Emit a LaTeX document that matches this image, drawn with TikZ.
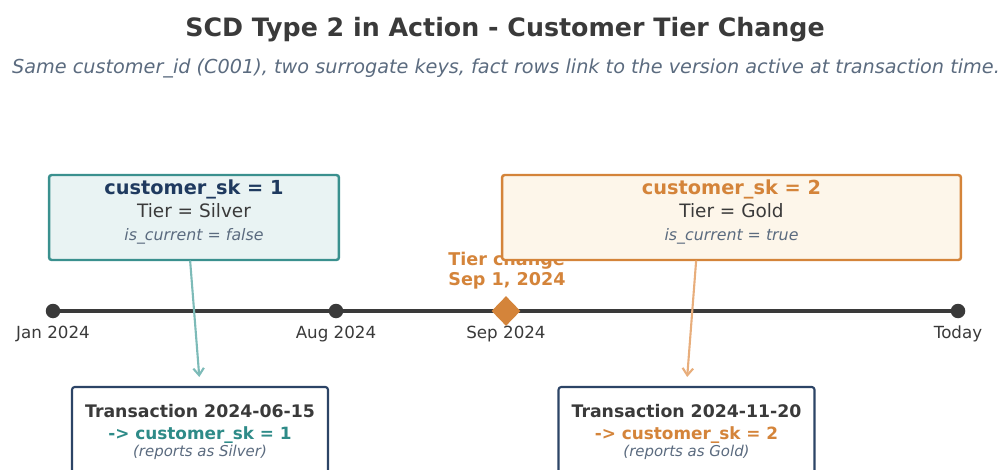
\documentclass[tikz,border=0pt]{standalone}
\usepackage{fontspec}
\setmainfont{DejaVu Sans}
\usepackage{xcolor}
\usetikzlibrary{arrows.meta, shapes.geometric, positioning}

\definecolor{inkgray}{HTML}{3A3A3A}
\definecolor{slategray}{HTML}{5B6B7F}
\definecolor{navyink}{HTML}{1F3A5F}
\definecolor{navyline}{HTML}{2C4466}
\definecolor{tealink}{HTML}{2E8B88}
\definecolor{tealline}{HTML}{3A908E}
\definecolor{tealfill}{HTML}{E9F3F3}
\definecolor{tealarrow}{HTML}{7DBBB8}
\definecolor{orangeink}{HTML}{D4843A}
\definecolor{orangefill}{HTML}{FDF6EA}
\definecolor{orangearrow}{HTML}{E8AE7C}

\begin{document}
\begin{tikzpicture}[
        x=0.02cm,
        y=-0.02cm,
        line join=round,
        line cap=round,
        skbox/.style={draw, line width=1.4pt, rounded corners=1.5pt,
            inner sep=0pt, minimum height=1.7cm},
        txbox/.style={draw=navyline, fill=white, line width=1.2pt,
            rounded corners=1.5pt, inner sep=0pt,
            minimum width=5.12cm, minimum height=2cm},
        tdot/.style={circle, fill=inkgray, inner sep=0pt, minimum size=0.29cm},
        datelbl/.style={anchor=base, inner sep=0pt, text=inkgray,
            font=\fontsize{9.5}{11}\selectfont},
        txt/.style={anchor=base, inner sep=0pt}
    ]

        \useasboundingbox (0,0) rectangle (1001,470);
        \clip (0,0) rectangle (1001,470);

        % =================================
        % TITLE
        % =================================
        \node[txt, text=inkgray, font=\fontsize{14.4}{16}\selectfont\bfseries]
            (title) at (505,36) {SCD Type 2 in Action - Customer Tier Change};
        \node[txt, text=slategray, font=\fontsize{10.95}{13}\selectfont\itshape]
            (subtitle) at (506,73)
            {Same customer\_id (C001), two surrogate keys, fact rows link to the version active at transaction time.};

        % =================================
        % TIMELINE
        % =================================
        \coordinate (tjan) at (53,311);
        \coordinate (taug) at (336,311);
        \coordinate (tsep) at (506,311);
        \coordinate (ttoday) at (958,311);

        \draw[inkgray, line width=1.8pt]
            (tjan) -- (ttoday);

        \node[tdot] (jan) at (tjan) {};
        \node[tdot] (aug) at (taug) {};
        \node[tdot] (today) at (ttoday) {};
        \node[diamond, fill=orangeink, inner sep=0pt,
            minimum width=0.58cm, minimum height=0.6cm] (sep) at (tsep) {};

        \node[datelbl] (janlbl) at (53,338) {Jan 2024};
        \node[datelbl] (auglbl) at (336,338) {Aug 2024};
        \node[datelbl] (seplbl) at (506,338) {Sep 2024};
        \node[datelbl] (todaylbl) at (958,338) {Today};

        % tier change label
        \node[anchor=base west, inner sep=0pt, text=orangeink,
            font=\fontsize{10}{12}\selectfont\bfseries] (chg1) at (448,265) {Tier change};
        \node[anchor=base west, inner sep=0pt, text=orangeink,
            font=\fontsize{10}{12}\selectfont\bfseries] (chg2) at (448,285) {Sep 1, 2024};

        % =================================
        % DIMENSION ROWS
        % =================================

        % customer_sk = 1
        \node[skbox, draw=tealline, fill=tealfill, minimum width=5.8cm]
            (sk1box) at (194,217.5) {};
        \node[txt, text=navyink, font=\fontsize{11}{13}\selectfont\bfseries]
            (sk1key) at (194,194) {customer\_sk = 1};
        \node[txt, text=inkgray, font=\fontsize{10.5}{12}\selectfont]
            (sk1tier) at (194,217) {Tier = Silver};
        \node[txt, text=slategray, font=\fontsize{9}{11}\selectfont\itshape]
            (sk1cur) at (194,240) {is\_current = false};

        % customer_sk = 2
        \node[skbox, draw=orangeink, fill=orangefill, minimum width=9.18cm]
            (sk2box) at (731.5,217.5) {};
        \node[txt, text=orangeink, font=\fontsize{11}{13}\selectfont\bfseries]
            (sk2key) at (731.5,194) {customer\_sk = 2};
        \node[txt, text=inkgray, font=\fontsize{10.5}{12}\selectfont]
            (sk2tier) at (731.5,217) {Tier = Gold};
        \node[txt, text=slategray, font=\fontsize{9}{11}\selectfont\itshape]
            (sk2cur) at (731.5,240) {is\_current = true};

        % =================================
        % FACT ROWS
        % =================================

        \node[txbox] (tx1box) at (200,437) {};
        \node[txt, text=inkgray, font=\fontsize{9.85}{12}\selectfont\bfseries]
            (tx1date) at (200,417) {Transaction 2024-06-15};
        \node[txt, text=tealink, font=\fontsize{9.6}{12}\selectfont\bfseries]
            (tx1key) at (200,439) {-> customer\_sk = 1};
        \node[txt, text=slategray, font=\fontsize{8.5}{10}\selectfont\itshape]
            (tx1note) at (200,456) {(reports as Silver)};

        \node[txbox] (tx2box) at (686.5,437) {};
        \node[txt, text=inkgray, font=\fontsize{9.85}{12}\selectfont\bfseries]
            (tx2date) at (686.5,417) {Transaction 2024-11-20};
        \node[txt, text=orangeink, font=\fontsize{9.6}{12}\selectfont\bfseries]
            (tx2key) at (686.5,439) {-> customer\_sk = 2};
        \node[txt, text=slategray, font=\fontsize{8.5}{10}\selectfont\itshape]
            (tx2note) at (686.5,456) {(reports as Gold)};

        % =================================
        % LINKS
        % =================================

        \draw[tealarrow, line width=1.2pt, -{Straight Barb[length=4pt, width=6pt]},
            shorten >=0.18cm]
            (sk1box.-95) -- (tx1box.north);

        \draw[orangearrow, line width=1.2pt, -{Straight Barb[length=4pt, width=6pt]},
            shorten >=0.18cm]
            (sk2box.-129) -- (tx2box.north);

    \end{tikzpicture}
\end{document}
